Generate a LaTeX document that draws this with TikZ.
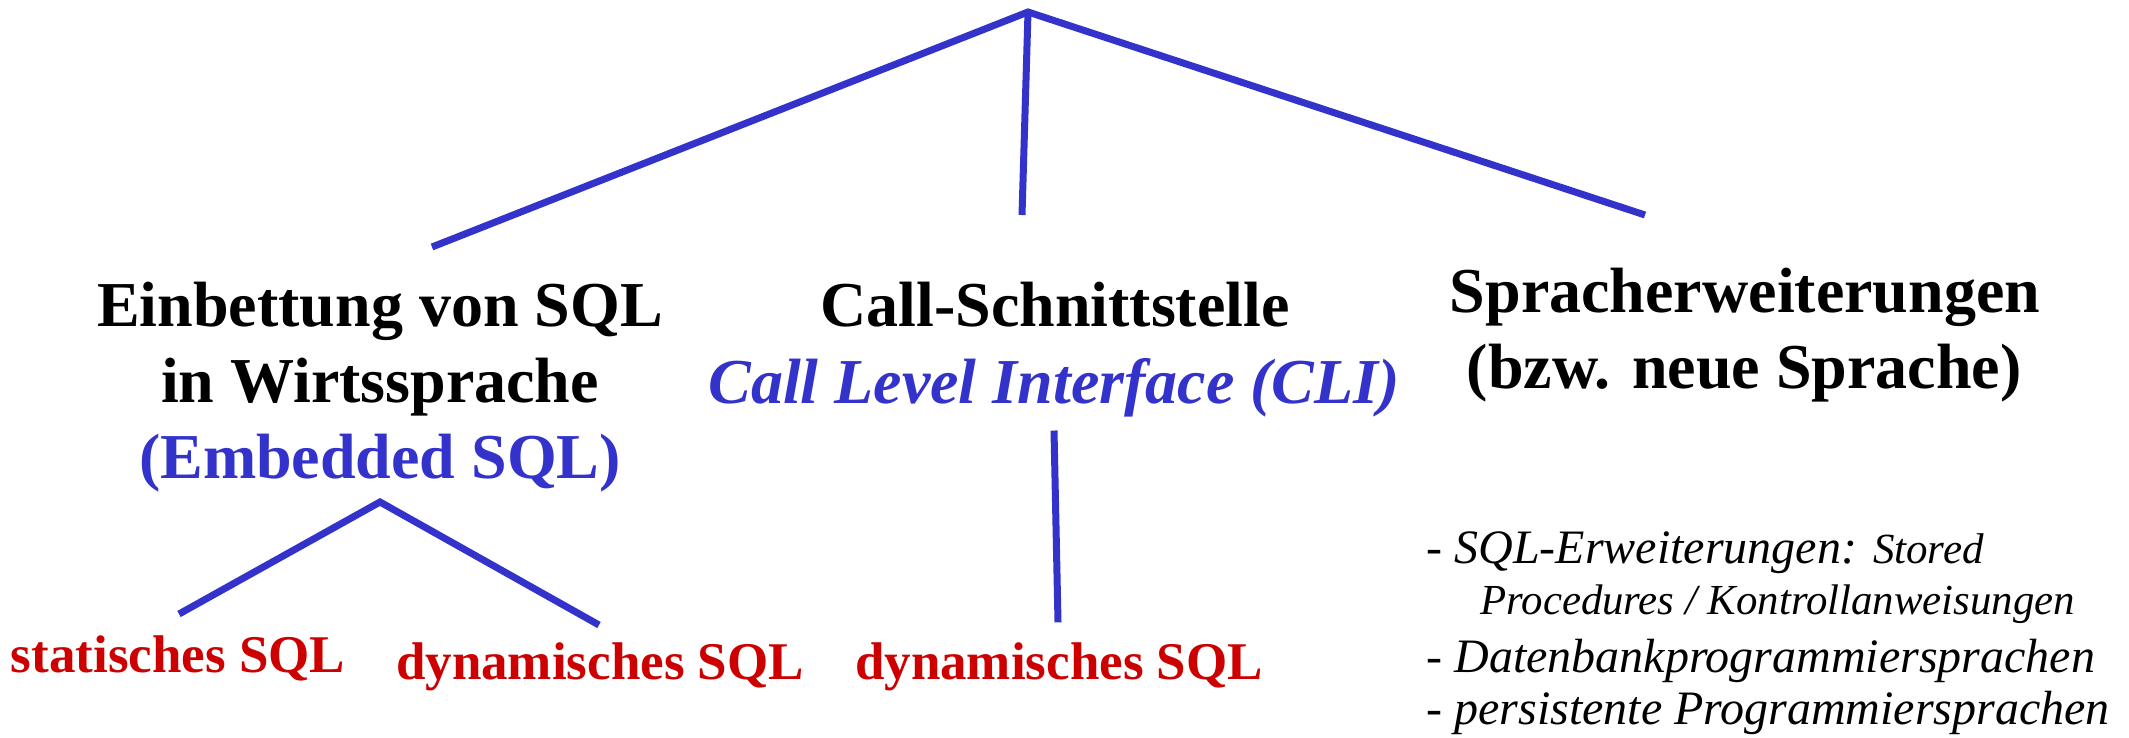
\documentclass[tikz,border=0pt]{standalone}
\usepackage{fontspec}
\setmainfont{Liberation Serif}
\usepackage{xcolor}
\definecolor{branchblue}{RGB}{51,51,204}
\definecolor{leafred}{RGB}{204,0,0}

\begin{document}
\begin{tikzpicture}[x=0.5pt,y=0.5pt,yscale=-1,xscale=1,
  branch/.style={draw=branchblue,line width=3.5pt},
  head/.style={anchor=base,inner sep=0.75pt,font=\fontsize{32}{38}\selectfont\bfseries},
  leaf/.style={anchor=base,inner sep=0.75pt,text=leafred,font=\fontsize{26.5}{32}\selectfont\bfseries},
  item/.style={anchor=base west,inner sep=0pt,font=\fontsize{24}{29}\selectfont\itshape}]

\useasboundingbox (0,0) rectangle (2129,738);

\coordinate (root) at (1028,12);
\coordinate (embTop) at (432,247);
\coordinate (cliTop) at (1022,215);
\coordinate (sprTop) at (1645,215);
\coordinate (embSub) at (380,502);
\coordinate (statTop) at (179,614);
\coordinate (dynTop) at (599,625);

\node (einb1) at (380,326) [head] {Einbettung von SQL};
\node (einb2) at (380,402) [head] {in Wirtssprache};
\node (einb3) at (380,478) [head,text=branchblue] {(Embedded SQL)};
\node (cli1) at (1055,326) [head] {Call-Schnittstelle};
\node (cli2) at (1054,403) [head,text=branchblue,font=\fontsize{32}{38}\selectfont\bfseries\itshape] {Call Level Interface (CLI)};
\node (spr1) at (1745,312) [head] {Spracherweiterungen};
\node (spr2) at (1744,388) [head] {(bzw. neue Sprache)};

\node (stat) at (178,672) [leaf] {statisches SQL};
\node (dyn1) at (600,679) [leaf] {dynamisches SQL};
\node (dyn2) at (1059,679) [leaf] {dynamisches SQL};

\node (list1) at (1426,563) [item] {- SQL-Erweiterungen: {\fontsize{21.5}{25}\selectfont Stored}};
\node (list2) at (1480,614) [item,font=\fontsize{21.4}{25}\selectfont\itshape] {Procedures / Kontrollanweisungen};
\node (list3) at (1426,672) [item] {- Datenbankprogrammiersprachen};
\node (list4) at (1426,724) [item] {- persistente Programmiersprachen};

% tree
\draw [branch] (embTop) -- (root) -- (sprTop);
\draw [branch] (root) -- (cliTop);
\draw [branch] (statTop) -- (embSub) -- (dynTop);
\draw [branch] ([shift={(0,12)}]cli2.south) -- ([shift={(-1,-18)}]dyn2.north);

\end{tikzpicture}
\end{document}
